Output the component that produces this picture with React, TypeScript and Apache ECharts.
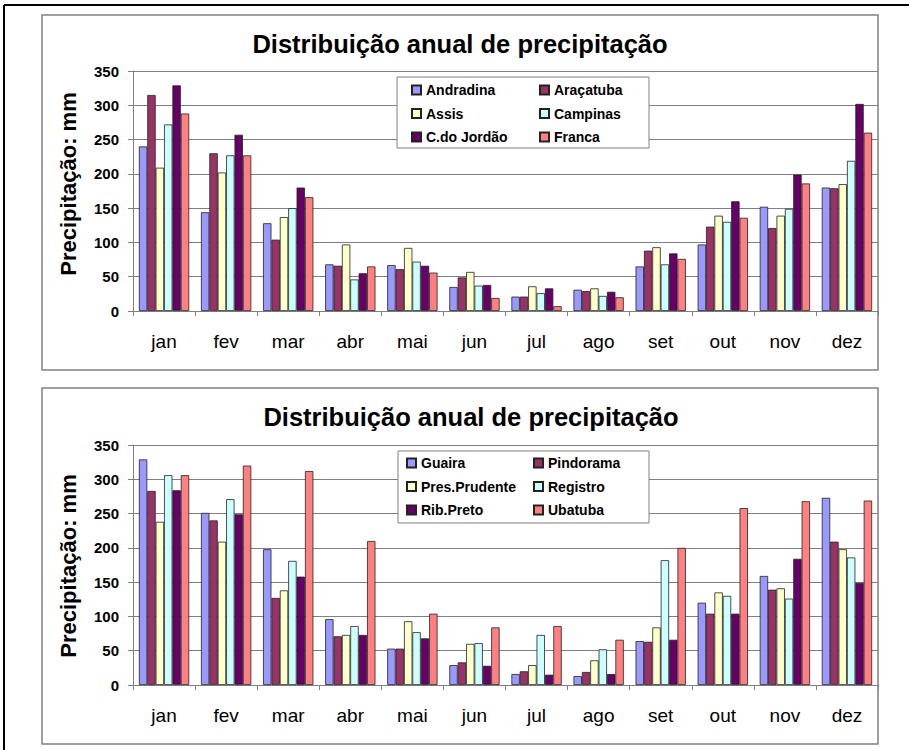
import React, { useEffect, useRef } from "react";
import * as echarts from "echarts";

const months = ["jan", "fev", "mar", "abr", "mai", "jun", "jul", "ago", "set", "out", "nov", "dez"];
const yTicks = [0, 50, 100, 150, 200, 250, 300, 350];
const chartTitle = "Distribuição anual de precipitação";
const yAxisTitle = "Precipitação: mm";

// Chart 1
const names1 = ["Andradina", "Araçatuba", "Assis", "Campinas", "C.do Jordão", "Franca"];
const andradina = [240, 144, 128, 68, 67, 35, 21, 31, 65, 97, 152, 180];
const aracatuba = [315, 230, 104, 66, 61, 49, 21, 29, 88, 123, 121, 179];
const assis = [209, 202, 137, 97, 92, 57, 36, 33, 93, 139, 139, 185];
const campinas = [272, 227, 150, 46, 72, 37, 26, 22, 68, 130, 149, 219];
const cdoJordao = [329, 257, 180, 55, 66, 38, 33, 28, 84, 160, 199, 302];
const franca = [288, 227, 166, 65, 56, 19, 7, 20, 76, 136, 186, 260];

// Chart 2
const names2 = ["Guaira", "Pindorama", "Pres.Prudente", "Registro", "Rib.Preto", "Ubatuba"];
const guaira = [329, 251, 198, 96, 53, 29, 16, 13, 64, 120, 159, 273];
const pindorama = [283, 240, 127, 71, 53, 33, 20, 19, 63, 104, 139, 209];
const presPrudente = [238, 209, 138, 73, 93, 60, 29, 36, 84, 135, 141, 198];
const registro = [306, 271, 181, 86, 77, 61, 73, 52, 182, 130, 126, 186];
const ribPreto = [284, 249, 158, 73, 68, 28, 15, 16, 66, 104, 184, 149];
const ubatuba = [306, 320, 312, 210, 104, 84, 86, 66, 200, 258, 268, 269];

const colors = ["#9999FF", "#993366", "#FFFFCC", "#CCFFFF", "#660066", "#FF8080"];

const FONT = "'Liberation Sans', Arial, sans-serif";

export default function App() {
  const ref = useRef<HTMLDivElement>(null);

  useEffect(() => {
    if (!ref.current) return;
    const chart = echarts.init(ref.current, undefined, { renderer: "svg" });

    const data1 = [andradina, aracatuba, assis, campinas, cdoJordao, franca];
    const data2 = [guaira, pindorama, presPrudente, registro, ribPreto, ubatuba];

    const grids = [
      { left: 133, top: 71, width: 745, height: 240 },
      { left: 133, top: 445, width: 745, height: 240 },
    ];

    const xAxes = grids.map((_, i) => ({
      type: "category",
      gridIndex: i,
      data: months,
      axisLine: { show: true, lineStyle: { color: "#808080", width: 1 } },
      axisTick: { show: true, length: 5, lineStyle: { color: "#808080" } },
      axisLabel: { color: "#000", fontFamily: FONT, fontSize: 19, margin: 21 },
    }));

    const yAxes = grids.map((_, i) => ({
      type: "value",
      gridIndex: i,
      min: 0,
      max: 350,
      interval: 50,
      axisLine: { show: true, lineStyle: { color: "#808080", width: 1 } },
      axisTick: { show: true, length: 5, lineStyle: { color: "#808080" } },
      axisLabel: {
        color: "#000",
        fontFamily: FONT,
        fontSize: 15,
        fontWeight: "bold",
        margin: 14,
        formatter: (v: number) => (yTicks.includes(v) ? String(v) : ""),
      },
      splitLine: { show: true, lineStyle: { color: "#808080", width: 1 } },
    }));

    const mkSeries = (names: string[], data: number[][], idx: number) =>
      names.map((n, k) => ({
        type: "bar",
        name: n,
        xAxisIndex: idx,
        yAxisIndex: idx,
        data: data[k],
        barGap: "0%",
        barCategoryGap: "19%",
        itemStyle: { color: colors[k], borderColor: "#222", borderWidth: 0.8 },
        z: 2,
      }));

    const legendBase = {
      orient: "vertical",
      itemWidth: 9,
      itemHeight: 9,
      itemGap: 7.5,
      padding: 0,
      icon: "rect",
      z: 5,
      textStyle: { fontFamily: FONT, fontSize: 14, fontWeight: "bold", color: "#000", lineHeight: 16 },
    };

    const legends = [
      { ...legendBase, left: 411, top: 82, data: [names1[0], names1[2], names1[4]] },
      { ...legendBase, left: 539, top: 82, data: [names1[1], names1[3], names1[5]] },
      { ...legendBase, left: 406, top: 455, data: [names2[0], names2[2], names2[4]] },
      { ...legendBase, left: 533, top: 455, data: [names2[1], names2[3], names2[5]] },
    ];

    const graphic: any[] = [
      // outer frame (top and left edges)
      { type: "line", shape: { x1: 4, y1: 5, x2: 909, y2: 5 }, style: { stroke: "#000", lineWidth: 2 }, z: 0 },
      { type: "line", shape: { x1: 4, y1: 5, x2: 4, y2: 750 }, style: { stroke: "#000", lineWidth: 2 }, z: 0 },
      // chart boxes
      { type: "rect", shape: { x: 42, y: 15, width: 836, height: 355 }, style: { fill: "none", stroke: "#808080", lineWidth: 1.5 }, z: 0 },
      { type: "rect", shape: { x: 42, y: 388, width: 836, height: 356 }, style: { fill: "none", stroke: "#808080", lineWidth: 1.5 }, z: 0 },
      // legend boxes
      { type: "rect", shape: { x: 397, y: 77, width: 252, height: 71 }, style: { fill: "#fff", stroke: "#808080", lineWidth: 1 }, z: 4 },
      { type: "rect", shape: { x: 398, y: 451, width: 251, height: 72 }, style: { fill: "#fff", stroke: "#808080", lineWidth: 1 }, z: 4 },
      // titles
      {
        type: "text", x: 460, y: 44, z: 5,
        style: { text: chartTitle, align: "center", verticalAlign: "middle", font: `bold 25.5px ${FONT}`, fill: "#000" },
      },
      {
        type: "text", x: 471, y: 417, z: 5,
        style: { text: chartTitle, align: "center", verticalAlign: "middle", font: `bold 25.5px ${FONT}`, fill: "#000" },
      },
      // y axis titles
      {
        type: "text", x: 68, y: 184, rotation: Math.PI / 2, z: 5,
        style: { text: yAxisTitle, align: "center", verticalAlign: "middle", font: `bold 22px ${FONT}`, fill: "#000" },
      },
      {
        type: "text", x: 68, y: 566, rotation: Math.PI / 2, z: 5,
        style: { text: yAxisTitle, align: "center", verticalAlign: "middle", font: `bold 22px ${FONT}`, fill: "#000" },
      },
    ];

    chart.setOption({
      animation: false,
      backgroundColor: "#fff",
      grid: grids,
      xAxis: xAxes,
      yAxis: yAxes,
      legend: legends,
      graphic,
      series: [...mkSeries(names1, data1, 0), ...mkSeries(names2, data2, 1)],
    });

    return () => chart.dispose();
  }, []);

  return (
    <div
      ref={ref}
      style={{ position: "absolute", left: 0, top: 0, width: 909, height: 750 }}
    />
  );
}
